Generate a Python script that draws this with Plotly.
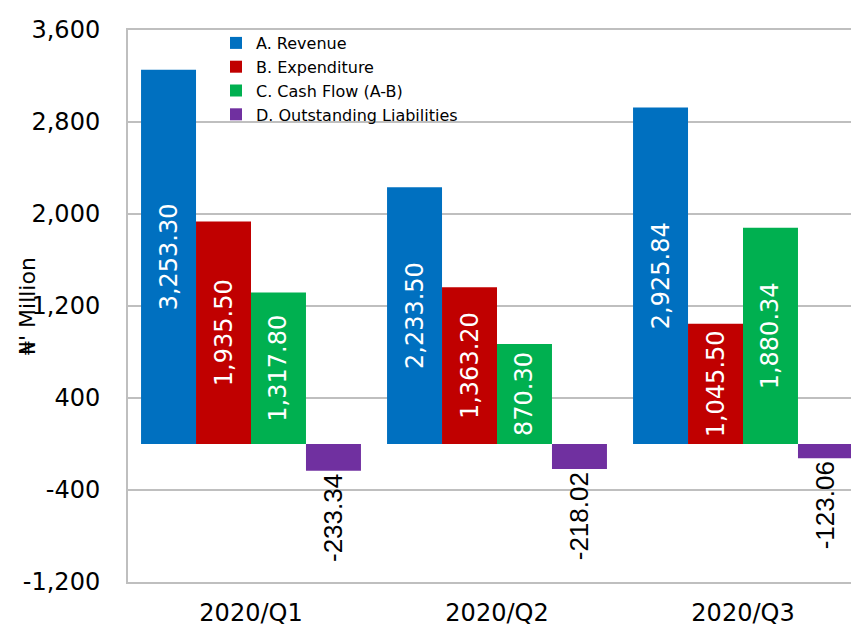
import plotly.graph_objects as go

quarters = ["2020/Q1", "2020/Q2", "2020/Q3"]
revenue = [3253.30, 2233.50, 2925.84]
expenditure = [1935.50, 1363.20, 1045.50]
cash_flow = [1317.80, 870.30, 1880.34]
liabilities = [-233.34, -218.02, -123.06]

series_names = ["A. Revenue", "B. Expenditure", "C. Cash Flow (A-B)", "D. Outstanding Liabilities"]
series_values = [revenue, expenditure, cash_flow, liabilities]
series_colors = ["#0070C0", "#C00000", "#00B050", "#7030A0"]

y_tickvals = [-1200, -400, 400, 1200, 2000, 2800, 3600]
y_ticktext = ["-1,200", "-400", "400", "1,200", "2,000", "2,800", "3,600"]
y_title = "₦' Million"

W, H = 851, 633
ML, MR, MT, MB = 128, 0, 30, 51
plot_w = W - ML - MR
plot_h = H - MT - MB
# category width in px (plot continues beyond right edge of the picture)
cat_px = 246.0
x_max = -0.5 + plot_w / cat_px

fig = go.Figure()
for name, vals, col in zip(series_names, series_values, series_colors):
    labels = [f"{v:,.2f}" for v in vals]
    neg = all(v < 0 for v in vals)
    fig.add_trace(go.Bar(
        x=quarters, y=vals, name=name,
        marker=dict(color=col, line=dict(width=0)),
        text=labels,
        textposition="outside" if neg else "inside",
        insidetextanchor="middle",
        constraintext="none",
        textangle=-90,
        textfont=dict(family="Liberation Sans" if neg else "DejaVu Sans",
                      size=26 if neg else 24,
                      color="#000000" if neg else "#FFFFFF"),
        cliponaxis=False,
    ))

fig.update_layout(
    width=W, height=H,
    margin=dict(l=ML, r=MR, t=MT, b=MB, pad=0),
    paper_bgcolor="white", plot_bgcolor="white",
    barmode="group", bargap=0.106, bargroupgap=0,
    font=dict(family="DejaVu Sans", color="#000000"),
    showlegend=True,
    legend=dict(
        x=(216 - ML) / plot_w, y=1 - (26 - MT) / plot_h,
        xanchor="left", yanchor="top",
        bgcolor="rgba(0,0,0,0)", borderwidth=0,
        font=dict(family="DejaVu Sans", size=16, color="#000000"),
        tracegroupgap=0, itemwidth=30,
        traceorder="normal",
    ),
    xaxis=dict(
        range=[-0.5, x_max], showgrid=False, zeroline=False,
        showline=True, mirror=True, linecolor="#BFBFBF", linewidth=2,
        ticks="",
        tickfont=dict(family="DejaVu Sans", size=24, color="#000000"),
        ticklabelstandoff=8,
    ),
    yaxis=dict(
        range=[-1200, 3600], tickvals=y_tickvals, ticktext=y_ticktext,
        showgrid=True, gridcolor="#BFBFBF", gridwidth=2,
        zeroline=False, showline=True, linecolor="#BFBFBF", linewidth=2,
        ticks="", ticklabelstandoff=21,
        tickfont=dict(family="DejaVu Sans", size=24, color="#000000"),
    ),
    annotations=[dict(
        text=y_title, textangle=-90, xref="paper", yref="paper",
        x=(27 - ML) / plot_w, y=0.5, xanchor="center", yanchor="middle",
        showarrow=False, font=dict(family="DejaVu Sans", size=22, color="#000000"),
    )],
)

fig.write_html("out.html")
